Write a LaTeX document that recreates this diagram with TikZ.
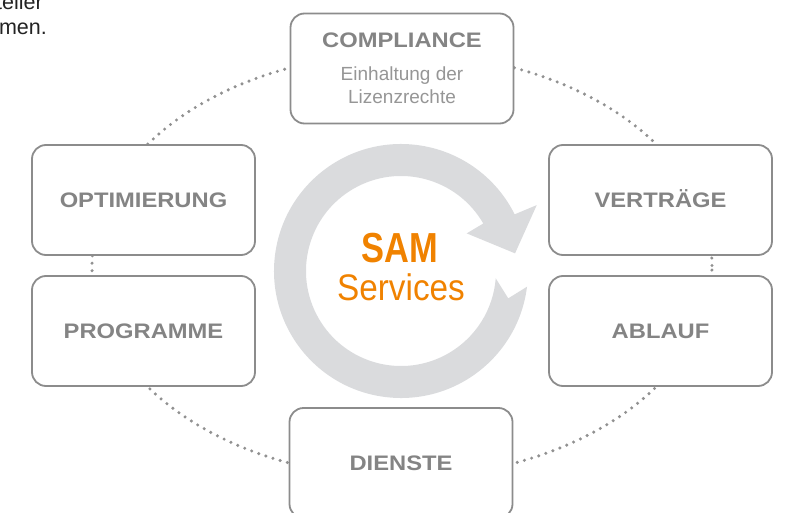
\documentclass[tikz,border=0pt]{standalone}
\usepackage{fontspec}
\setmainfont{Liberation Sans}
\newfontfamily\labelfont[FakeStretch=1.13]{Liberation Sans}
\newfontfamily\samfont[FakeStretch=0.82]{Liberation Sans}
\newfontfamily\servfont[FakeStretch=0.9]{Liberation Sans}

\definecolor{boxgray}{RGB}{140,140,140}
\definecolor{labelgray}{RGB}{132,132,132}
\definecolor{subgray}{RGB}{150,150,150}
\definecolor{dotgray}{RGB}{145,145,145}
\definecolor{ringgray}{RGB}{218,219,221}
\definecolor{samorange}{RGB}{240,130,0}
\definecolor{textdark}{RGB}{35,35,35}

\tikzset{
  box/.style={draw=boxgray, line width=1.8pt, fill=white, rounded corners=14pt,
    minimum width=223pt, minimum height=110pt, inner sep=0pt},
  boxlabel/.style={box, font=\labelfont\bfseries\fontsize{21}{25}\selectfont,
    text=labelgray, text height=15pt, text depth=0pt},
  dotring/.style={draw=dotgray, line width=3.4pt, line cap=round, dash pattern=on 0pt off 7.5pt}
}

\begin{document}
\begin{tikzpicture}[x=1pt, y=-1pt, node distance=131pt]
\useasboundingbox (0,0) rectangle (789,513);
\clip (0,0) rectangle (789,513);

\coordinate (mid) at (402,265.5);
\draw[dotring] (mid) ellipse[x radius=310pt, y radius=212pt];

\node[box, align=center, text=subgray, font=\fontsize{19}{23}\selectfont] (comp) at (402,68.5)
  {{\labelfont\bfseries\fontsize{21}{25}\selectfont\color{labelgray}COMPLIANCE}\\[10.5pt]Einhaltung der\\Lizenzrechte};
\node[boxlabel] (opt) at (143.5,200) {OPTIMIERUNG};
\node[boxlabel, below of=opt] (prog) {PROGRAMME};
\node[boxlabel] (vert) at (660.5,200) {VERTRÄGE};
\node[boxlabel, below of=vert] (abl) {ABLAUF};
\node[boxlabel] (dien) at (401,463) {DIENSTE};

% circular arrow
\begin{scope}[shift={(401,271)}]
\fill[ringgray] (-4.4:95pt) -- (-14.3:110.7pt) -- (-7.1:127pt)
  arc[start angle=-7.1, end angle=-333.5, radius=127pt]
  -- (25.9:150.9pt) -- (8.8:115.4pt) -- (29.8:75.7pt) -- (-330:95pt)
  arc[start angle=-330, end angle=-4.4, radius=95pt] -- cycle;
\end{scope}

\node[anchor=base, text=samorange, font=\samfont\bfseries\fontsize{42}{42}\selectfont] (sam) at (400,262) {SAM};
\node[anchor=base, text=samorange, font=\servfont\fontsize{37}{37}\selectfont] (serv) at (401,300) {Services};

\node[anchor=base east, inner sep=0pt, text=textdark, font=\fontsize{21.5}{25}\selectfont] (teller) at (43,10) {teller};
\node[anchor=base east, inner sep=0pt, text=textdark, font=\fontsize{21.5}{25}\selectfont] (men) at (47,35) {men.};
\end{tikzpicture}
\end{document}
